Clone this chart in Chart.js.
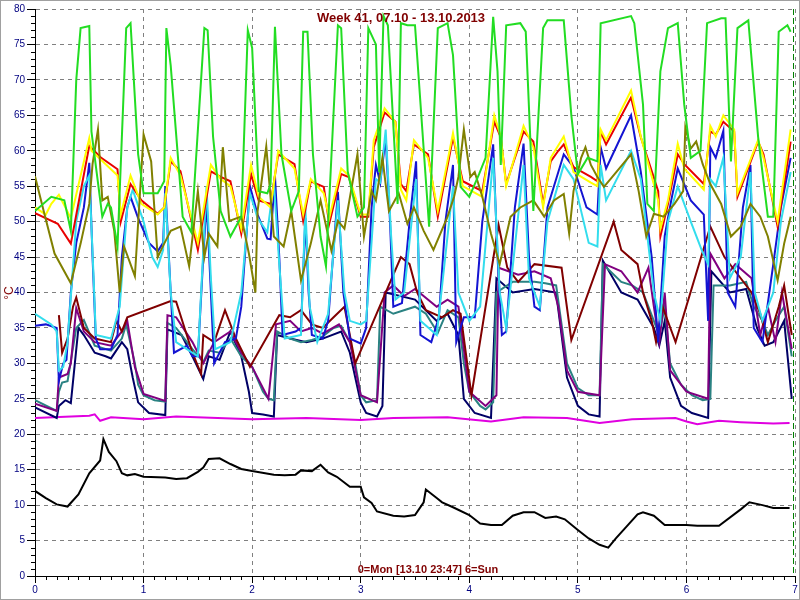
<!DOCTYPE html>
<html>
<head>
<meta charset="utf-8">
<script src="https://cdn.jsdelivr.net/npm/chart.js@4.4.0/dist/chart.umd.min.js"></script>
<style>
  body{margin:0;background:#fff;}
  #wrap{position:absolute;left:0;top:0;width:798px;height:598px;border:1px solid #a0a0a0;}
</style>
</head>
<body>
<div id="wrap"><canvas id="chart" width="798" height="598"></canvas></div>
<script>
// series values, [day, °C]
var green = [[0,51.5],[0.15,53.5],[0.27,53],[0.33,48.7],[0.38,70],[0.42,77.3],[0.5,77.6],[0.52,62.7],[0.62,50.7],[0.67,52.5],[0.7,52],[0.76,46.5],[0.84,77.3],[0.88,78],[0.95,59.5],[1.0,54],[1.13,54],[1.19,55.7],[1.21,77.3],[1.25,72],[1.36,50.7],[1.44,48.5],[1.56,77.3],[1.59,77],[1.64,62],[1.71,51.5],[1.8,47.9],[1.9,50.7],[1.96,77],[2.0,74.5],[2.06,54.3],[2.14,54],[2.17,55.3],[2.21,77.5],[2.27,59.5],[2.36,51.5],[2.43,54.3],[2.47,76.8],[2.51,76.8],[2.56,59.5],[2.63,47.9],[2.68,43.7],[2.79,77.7],[2.82,77.3],[2.88,57.1],[2.97,50.7],[3.03,52],[3.07,77.3],[3.14,75],[3.17,57],[3.21,79],[3.25,77.7],[3.34,52.5],[3.37,78],[3.43,77.7],[3.5,77.7],[3.63,49.3],[3.71,77.3],[3.8,78],[3.85,73.5],[3.92,54.9],[4.0,53.5],[4.09,56.7],[4.15,59],[4.22,78.9],[4.26,71.2],[4.29,58],[4.34,77.7],[4.47,78],[4.52,76.8],[4.59,51.5],[4.68,77.3],[4.72,78.4],[4.87,78.4],[4.94,65],[5.0,56.7],[5.09,59],[5.18,58.5],[5.21,78],[5.49,79],[5.52,78],[5.6,66.5],[5.64,52.5],[5.7,51.5],[5.76,71.2],[5.83,77.3],[5.92,78],[5.98,66.5],[6.04,59],[6.13,60],[6.19,78],[6.32,78.7],[6.36,78.7],[6.41,58.5],[6.47,77.3],[6.57,78.4],[6.66,62],[6.75,50.7],[6.8,50.7],[6.85,76.8],[6.93,77.7],[6.96,76.8]];
var olive = [[0,56.4],[0.08,51.5],[0.18,45.5],[0.33,41.3],[0.42,46.9],[0.5,52.5],[0.53,58.1],[0.58,63],[0.62,53],[0.67,53.5],[0.73,48.7],[0.78,40],[0.82,46.5],[0.92,42.3],[1.0,62.3],[1.07,58.5],[1.13,45],[1.19,46.9],[1.25,48.7],[1.34,49.3],[1.42,43.7],[1.5,54.3],[1.56,45],[1.6,48.3],[1.68,46.5],[1.73,60.5],[1.79,50.1],[1.9,50.7],[1.97,45.5],[2.03,40],[2.05,51.5],[2.13,60.6],[2.2,47.9],[2.29,46.5],[2.36,51.5],[2.45,41.7],[2.54,46.9],[2.63,53],[2.73,45.9],[2.79,50.1],[2.85,49],[2.97,59.5],[3.03,47.9],[3.1,54.3],[3.14,53],[3.2,59],[3.26,51.5],[3.35,54],[3.43,49.7],[3.49,52],[3.58,48.7],[3.67,46],[3.8,50.7],[3.86,53.5],[3.9,56.3],[3.95,63],[4.01,56.3],[4.05,57],[4.12,53.5],[4.2,48.3],[4.28,44],[4.38,50.7],[4.47,52],[4.59,53],[4.69,50.7],[4.78,53],[4.87,53.9],[4.92,48.3],[4.96,54.3],[5.03,59],[5.07,60.5],[5.12,58],[5.18,56.3],[5.24,54.9],[5.3,56],[5.49,59.5],[5.56,54.3],[5.63,47.9],[5.7,51.1],[5.79,50.7],[5.89,52.5],[5.97,54.3],[5.99,63.3],[6.04,60.3],[6.09,61.3],[6.15,58.1],[6.22,55.3],[6.32,52.5],[6.41,47.9],[6.5,49.3],[6.59,52.5],[6.68,50.7],[6.75,47.9],[6.84,41.7],[6.9,46.9],[6.96,50.7]];
var yellow = [[0,52],[0.1,51],[0.15,52.5],[0.22,53.8],[0.33,50.5],[0.5,61.8],[0.52,60],[0.76,56.5],[0.79,51],[0.88,56.5],[0.98,52.5],[1.13,51],[1.19,52],[1.25,59],[1.34,56.5],[1.5,47],[1.62,58],[1.71,56],[1.8,55],[1.9,49],[1.99,58],[2.06,53.5],[2.17,52],[2.24,60],[2.39,57.5],[2.47,51],[2.54,56],[2.66,54],[2.71,50.5],[2.82,57.5],[2.89,56.5],[3.0,51],[3.07,51],[3.12,61.5],[3.22,66],[3.32,64],[3.37,54.5],[3.42,53],[3.49,61.5],[3.62,59],[3.71,51.5],[3.85,62.5],[3.94,55],[4.12,53.5],[4.23,65],[4.29,62],[4.34,55],[4.5,63.5],[4.59,60.5],[4.68,52],[4.75,59],[4.87,62],[4.96,57],[5.12,55.5],[5.18,55],[5.21,63],[5.26,61.5],[5.49,68.5],[5.58,62],[5.74,53],[5.76,49],[5.83,53],[5.92,61],[5.98,57.5],[6.16,54.5],[6.22,63.5],[6.27,62],[6.34,65],[6.44,63],[6.47,54],[6.66,61.5],[6.71,59],[6.84,50],[6.96,63]];
var red = [[0,51.2],[0.21,49.7],[0.33,46.9],[0.5,60.7],[0.61,59],[0.76,57.4],[0.79,50],[0.88,55.3],[0.98,53],[1.13,51.1],[1.19,52],[1.25,58.5],[1.34,57.1],[1.5,46],[1.62,57.1],[1.71,56.3],[1.8,55.7],[1.9,48.3],[1.99,56.7],[2.06,53],[2.17,52.5],[2.24,59.5],[2.39,58.1],[2.47,50.1],[2.54,55.7],[2.66,54.9],[2.71,49.7],[2.82,56.7],[2.89,56.3],[3.0,50.7],[3.07,50.7],[3.12,60.5],[3.22,65.4],[3.32,64.1],[3.37,55.3],[3.42,54.3],[3.49,60.9],[3.62,59.5],[3.71,50.7],[3.85,61.9],[3.94,55.7],[4.12,54.3],[4.23,64.1],[4.29,61.9],[4.34,55.3],[4.5,62.7],[4.59,61.3],[4.68,52.5],[4.75,58.5],[4.82,60],[4.87,60.9],[4.96,57.7],[5.12,56.3],[5.18,55.7],[5.21,62.7],[5.26,60.9],[5.49,67.5],[5.58,61.9],[5.74,54.3],[5.76,47.9],[5.83,52.5],[5.92,59.5],[5.98,58.1],[6.16,55.3],[6.22,62.7],[6.27,62.3],[6.34,64.1],[6.44,62.7],[6.47,53.5],[6.66,61.3],[6.71,59.5],[6.84,49.3],[6.96,61.3]];
var cyan = [[0,37],[0.15,35.5],[0.2,34.5],[0.22,29],[0.26,29.5],[0.3,33],[0.38,50],[0.45,55],[0.5,56.5],[0.54,42],[0.56,34],[0.7,33.5],[0.78,38],[0.85,52],[0.9,54.5],[1.0,50],[1.08,45],[1.13,43.6],[1.18,46],[1.2,54],[1.25,40],[1.3,33],[1.5,31],[1.58,55],[1.62,42],[1.66,32],[1.8,33],[1.9,40],[1.98,54],[2.05,50.5],[2.14,48.5],[2.2,55.5],[2.25,44],[2.3,33.5],[2.45,34],[2.49,52],[2.53,38],[2.6,33],[2.7,37],[2.79,53],[2.85,40],[2.9,36],[3.0,35.5],[3.05,36],[3.14,56],[3.18,55.5],[3.23,63],[3.28,48],[3.32,39],[3.4,40],[3.51,56],[3.55,36],[3.7,34],[3.85,55],[3.9,40],[4.0,36],[4.1,38],[4.22,59],[4.28,40],[4.34,35],[4.5,58],[4.55,42],[4.65,38],[4.72,50],[4.87,58],[4.96,56],[5.1,47],[5.18,46.5],[5.21,58],[5.26,53],[5.49,60],[5.58,56],[5.7,40],[5.76,36],[5.83,50],[5.92,55],[6.04,50],[6.14,46],[6.2,44],[6.22,56],[6.27,55],[6.34,59],[6.4,42],[6.5,45],[6.59,57],[6.63,40],[6.7,36],[6.8,40],[6.87,50],[6.96,57]];
var blue = [[0,35.3],[0.1,35.5],[0.2,35],[0.22,27.5],[0.26,30],[0.29,30.5],[0.33,40],[0.38,47],[0.45,52],[0.5,58.3],[0.53,45],[0.56,33.5],[0.6,32],[0.7,32],[0.76,34],[0.8,45],[0.85,52],[0.88,53.5],[0.95,50.5],[1.05,47],[1.13,45.8],[1.18,47],[1.2,55],[1.25,40],[1.28,31.5],[1.4,32.5],[1.45,31],[1.5,31],[1.55,45],[1.58,53],[1.62,40],[1.65,30],[1.75,33],[1.85,33.5],[1.9,38],[1.98,55],[2.05,51],[2.14,47.6],[2.17,47.5],[2.21,56.5],[2.25,45],[2.28,34],[2.4,34.5],[2.45,35],[2.49,50.5],[2.52,40],[2.55,34],[2.65,33.5],[2.7,36],[2.79,54.2],[2.84,40],[2.9,33.5],[3.0,32.8],[3.05,35],[3.1,52],[3.14,58],[3.18,55.5],[3.23,61.8],[3.27,50],[3.3,38],[3.38,38.5],[3.45,50],[3.51,58.5],[3.55,34],[3.65,33],[3.72,36.5],[3.78,50],[3.85,58],[3.88,33],[3.95,36.5],[4.05,36.5],[4.12,50],[4.22,60.9],[4.26,45],[4.3,34],[4.34,34.5],[4.42,52],[4.5,61],[4.55,45],[4.6,38],[4.65,37.5],[4.72,52],[4.87,59.5],[4.96,57.7],[5.08,52],[5.18,51],[5.21,60.5],[5.26,57.5],[5.49,65],[5.58,57],[5.68,45],[5.74,33],[5.8,48],[5.86,53],[5.92,57.5],[6.04,53],[6.16,51],[6.2,36],[6.22,60.5],[6.27,59],[6.34,62.8],[6.38,40],[6.45,38],[6.52,52],[6.59,58],[6.62,35],[6.7,33],[6.8,44],[6.87,52],[6.96,59]];
var maroon = [[0.22,36.8],[0.25,31.5],[0.3,33.5],[0.35,38],[0.38,39.3],[0.45,35],[0.55,33.5],[0.7,33],[0.75,36],[0.8,34.5],[0.85,36.5],[1.25,38.8],[1.3,38.7],[1.45,31.5],[1.53,28.5],[1.55,34],[1.65,33],[1.75,37.5],[1.85,33.5],[1.98,29.5],[2.25,36.8],[2.35,36.5],[2.45,37.5],[2.55,35.5],[2.65,35],[2.75,36.5],[2.85,38],[2.95,30],[3.37,45],[3.45,44],[3.52,40],[3.6,37.5],[3.75,36.5],[3.85,37.5],[3.92,37],[4.02,25.5],[4.27,49.5],[4.35,43.5],[4.45,41.5],[4.6,44],[4.85,43.5],[4.94,33.3],[5.33,50],[5.4,46],[5.55,44],[5.6,40],[5.68,36],[5.72,33],[5.78,38],[5.9,33],[6.22,49.3],[6.35,45],[6.45,43],[6.6,40],[6.68,37],[6.75,33],[6.85,38],[6.9,41],[6.97,34]];
var purple = [[0,24.3],[0.2,23.3],[0.22,28],[0.3,28.5],[0.33,30],[0.38,37.8],[0.45,34.5],[0.55,33],[0.7,32.5],[0.8,34.5],[0.85,36],[0.92,29.5],[1.0,25.7],[1.2,24.7],[1.22,36.8],[1.3,36.5],[1.45,33],[1.55,30],[1.65,33],[1.8,34.5],[1.9,31.5],[2.0,29.5],[2.15,25],[2.22,35.5],[2.35,36],[2.45,34.5],[2.55,35],[2.65,34.2],[2.8,35.5],[2.9,33],[3.0,25.5],[3.15,24.5],[3.22,40],[3.3,41],[3.4,39.5],[3.5,40.5],[3.7,38],[3.8,39],[3.9,38],[4.0,26],[4.15,24],[4.25,25.5],[4.27,43.5],[4.45,42.5],[4.6,43],[4.75,42],[4.82,38],[4.9,29],[5.0,26],[5.2,25.5],[5.25,44],[5.4,43],[5.55,40],[5.65,43.5],[5.7,38],[5.75,33],[5.8,40],[5.85,29],[6.0,26],[6.2,25],[6.22,45.5],[6.35,42],[6.45,44],[6.6,42],[6.68,34],[6.75,38],[6.82,33],[6.88,40],[6.97,32]];
var teal = [[0,24.8],[0.2,23.3],[0.22,26],[0.25,27.3],[0.3,27.5],[0.38,35],[0.45,36.1],[0.55,32.5],[0.7,31.8],[0.8,33.5],[0.84,35.5],[0.92,30],[0.95,27],[1.0,25.5],[1.1,24.8],[1.2,24.6],[1.22,35.7],[1.3,35],[1.45,32],[1.55,30.2],[1.6,31.8],[1.7,31.5],[1.8,33.5],[1.9,31],[2.0,29.5],[2.1,26],[2.15,25],[2.2,24.8],[2.23,34.5],[2.35,33.5],[2.45,33],[2.55,33.3],[2.65,33.8],[2.75,35],[2.82,35.3],[2.9,33],[2.95,30],[3.0,25.5],[3.05,24.5],[3.15,24.8],[3.18,38],[3.3,37],[3.5,38],[3.6,37],[3.71,34.3],[3.8,37.5],[3.9,36.5],[3.95,30],[4.0,26],[4.1,24],[4.15,23.5],[4.22,24.5],[4.25,40],[4.4,41.5],[4.6,41.5],[4.7,41.3],[4.8,41],[4.9,30],[5.0,26.5],[5.1,25.5],[5.2,25.5],[5.23,44],[5.4,41.5],[5.5,41],[5.6,40],[5.7,36],[5.75,34],[5.8,38],[5.85,30],[5.95,27],[6.05,25.5],[6.15,24.8],[6.22,25],[6.25,41],[6.4,41],[6.55,41.5],[6.62,38],[6.7,36],[6.75,34],[6.82,36],[6.9,38],[6.97,31]];
var navy = [[0,23.8],[0.2,22.3],[0.22,24],[0.28,24.8],[0.33,24.4],[0.4,35],[0.45,34],[0.55,31.5],[0.65,31],[0.7,30.7],[0.8,33],[0.85,32],[0.9,28],[0.95,24.5],[1.05,23],[1.2,22.7],[1.22,34.8],[1.35,34],[1.45,31],[1.55,27.8],[1.6,31],[1.7,30.5],[1.8,34.5],[1.9,31],[1.97,26],[2.0,23],[2.1,22.8],[2.2,22.5],[2.23,34],[2.35,33.5],[2.5,33],[2.65,33.5],[2.82,34.5],[2.9,31.5],[3.0,24.5],[3.05,23],[3.15,22.5],[3.2,24],[3.23,40],[3.5,39],[3.7,36],[3.8,37],[3.9,34],[3.95,25],[4.05,23],[4.2,22.3],[4.25,42],[4.4,40],[4.6,40.5],[4.8,40],[4.9,28],[5.0,24],[5.1,22.8],[5.2,22.5],[5.23,44.5],[5.4,40],[5.55,39],[5.7,35],[5.75,32.5],[5.8,36],[5.85,28],[5.95,24],[6.05,23],[6.2,22.3],[6.23,43],[6.4,40],[6.55,40.5],[6.65,35],[6.72,32.5],[6.8,33],[6.9,36],[6.97,25]];
var magenta = [[0,22.3],[0.5,22.6],[0.55,22.8],[0.6,21.9],[0.7,22.4],[1.0,22.1],[1.3,22.5],[2.0,22.1],[2.5,22.3],[3.0,22.0],[3.3,22.3],[3.8,22.4],[4.2,21.8],[4.5,22.4],[4.9,22.3],[5.2,21.6],[5.5,22.1],[5.9,22.3],[6.0,21.8],[6.1,21.4],[6.3,21.9],[6.5,21.7],[6.8,21.5],[6.95,21.6]];
var black = [[0,12],[0.1,11],[0.2,10.1],[0.3,9.8],[0.4,11.5],[0.5,14.5],[0.6,16.3],[0.63,19.3],[0.68,17.5],[0.75,16.2],[0.8,14.5],[0.85,14.2],[0.92,14.4],[1.0,14],[1.2,13.9],[1.3,13.7],[1.4,13.8],[1.5,14.7],[1.55,15.3],[1.6,16.5],[1.7,16.6],[1.8,15.8],[1.9,15.1],[2.0,14.8],[2.2,14.3],[2.3,14.2],[2.4,14.3],[2.45,14.9],[2.55,14.8],[2.63,15.7],[2.7,14.6],[2.78,14],[2.9,12.6],[3.0,12.6],[3.03,11.1],[3.1,10.3],[3.15,9.1],[3.3,8.5],[3.4,8.4],[3.5,8.6],[3.58,10.4],[3.6,12.2],[3.7,11],[3.75,10.4],[3.85,9.7],[4.0,8.6],[4.1,7.4],[4.2,7.2],[4.3,7.2],[4.4,8.5],[4.5,9.0],[4.6,9.0],[4.7,8.2],[4.8,8.4],[4.88,8.0],[5.0,6.5],[5.1,5.3],[5.2,4.4],[5.28,4.0],[5.35,5.3],[5.45,7.0],[5.55,8.7],[5.6,9.0],[5.7,8.5],[5.8,7.2],[6.0,7.2],[6.1,7.1],[6.3,7.1],[6.5,9.4],[6.58,10.4],[6.7,10.0],[6.8,9.6],[6.95,9.6]];

var titleText = "Week 41, 07.10 - 13.10.2013";
var footText = "0=Mon [13.10 23:47] 6=Sun";
var unitText = "°C";
var nowDay = 6.98;

var seriesList = [
  [green, "#22dd22"], [olive, "#808000"], [yellow, "#ffff00"], [red, "#e80000"],
  [cyan, "#33dded"], [blue, "#1414d2"], [maroon, "#800000"], [purple, "#800080"],
  [teal, "#2a8282"], [navy, "#000066"], [magenta, "#e000e0"], [black, "#000000"]
];

var extras = {
  id: "extras",
  afterDraw: function(chart){
    var ctx = chart.ctx, xs = chart.scales.x, ys = chart.scales.y;
    var a = chart.chartArea;
    ctx.save();
    ctx.strokeStyle = "#000"; ctx.lineWidth = 1;
    ctx.beginPath();
    for (var v = 0; v <= 80; v++) {
      if (v % 5 == 0) continue;
      var py = Math.round(ys.getPixelForValue(v)) + 0.5;
      ctx.moveTo(a.left - 4, py); ctx.lineTo(a.left, py);
    }
    for (var i = 0; i <= 70; i++) {
      if (i % 10 == 0) continue;
      var px = Math.round(xs.getPixelForValue(i / 10)) + 0.5;
      ctx.moveTo(px, a.bottom); ctx.lineTo(px, a.bottom + 4);
    }
    ctx.stroke();
    // now marker
    ctx.strokeStyle = "#008000"; ctx.setLineDash([6, 3]);
    var nx = Math.round(xs.getPixelForValue(nowDay)) + 0.5;
    ctx.beginPath(); ctx.moveTo(nx, a.top); ctx.lineTo(nx, a.bottom); ctx.stroke();
    ctx.setLineDash([]);
    ctx.fillStyle = "#800000";
    ctx.textAlign = "center"; ctx.textBaseline = "middle";
    ctx.font = "bold 13px 'Liberation Sans', Arial";
    ctx.fillText(titleText, 400, 17);
    ctx.font = "bold 11px 'Liberation Sans', Arial";
    ctx.fillText(footText, 427, 569);
    ctx.translate(9, 292); ctx.rotate(-Math.PI / 2);
    ctx.font = "12px 'Liberation Sans', Arial";
    ctx.fillText(unitText, 0, 0);
    ctx.restore();
  }
};

var datasets = [];
for (var i = 0; i < seriesList.length; i++) {
  datasets.push({
    data: seriesList[i][0],
    borderColor: seriesList[i][1],
    borderWidth: 2,
    pointRadius: 0,
    tension: 0,
    fill: false
  });
}

new Chart("chart", {
  type: "line",
  data: { datasets: datasets },
  options: {
    responsive: false,
    animation: false,
    layout: { padding: { top: 4, right: 4, left: 0, bottom: 0 } },
    plugins: { legend: { display: false }, tooltip: { enabled: false } },
    scales: {
      x: {
        type: "linear", min: 0, max: 7,
        afterFit: function(s){ s.height = 23; },
        ticks: { stepSize: 1, color: "#000080", font: { size: 10, family: "'Liberation Sans', Arial" }, padding: 1 },
        grid: { color: "#808080", tickColor: "#000", tickLength: 7 },
        border: { dash: [4, 4], color: "#000" }
      },
      y: {
        min: 0, max: 80,
        afterFit: function(s){ s.width = 34; },
        ticks: { stepSize: 5, color: "#000080", font: { size: 10, family: "'Liberation Sans', Arial" }, padding: 2 },
        grid: { color: "#808080", tickColor: "#000", tickLength: 8 },
        border: { dash: [4, 4], color: "#000" }
      }
    }
  },
  plugins: [extras]
});
</script>
</body>
</html>
